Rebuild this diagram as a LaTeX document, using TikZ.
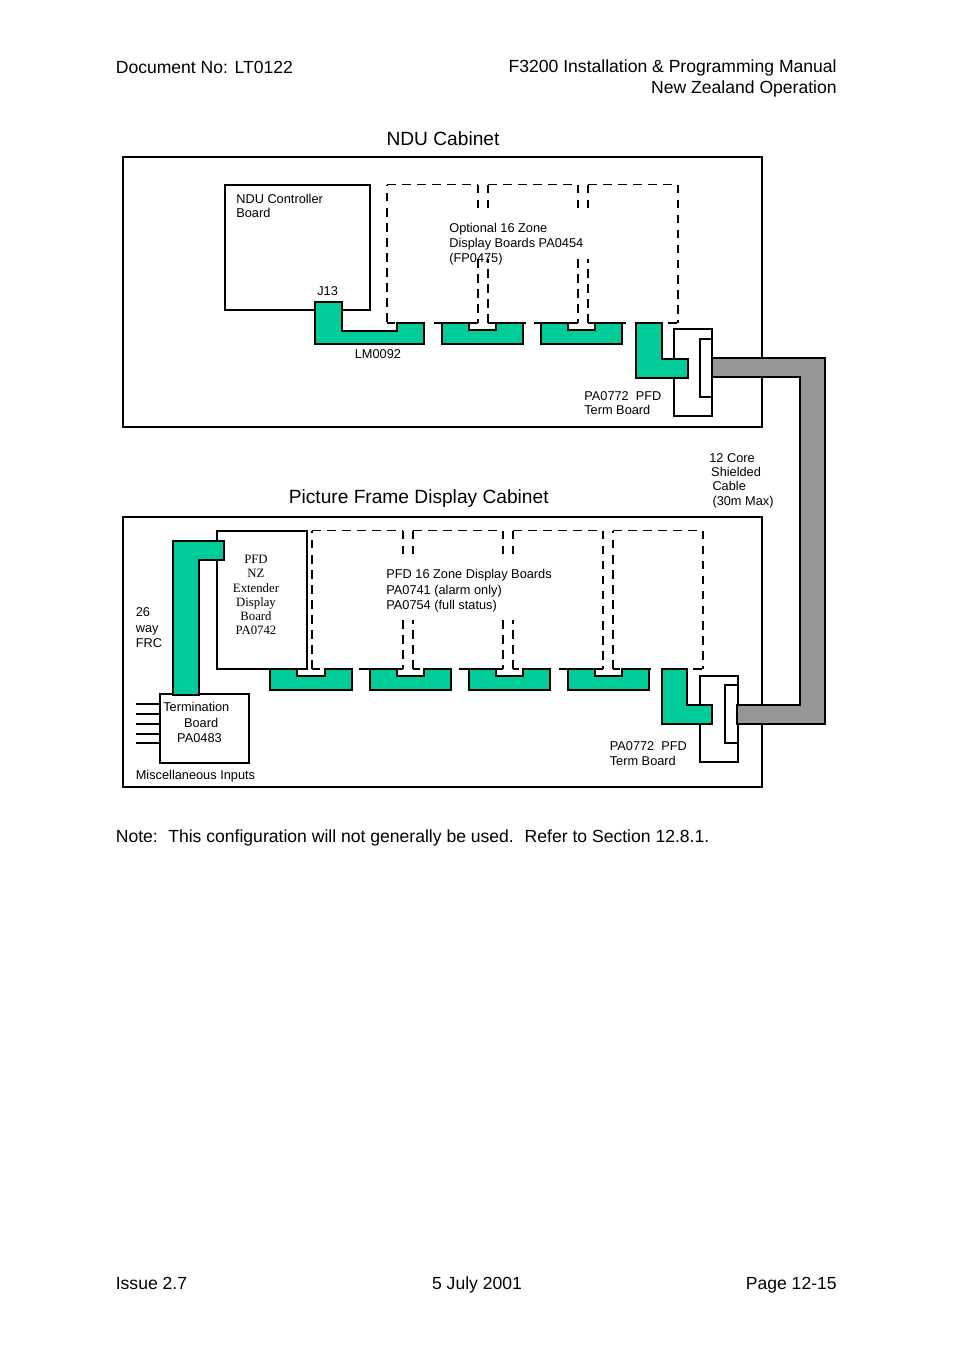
\documentclass[tikz,border=0pt]{standalone}
\usepackage{fontspec}
\setmainfont{Liberation Sans}
\newfontfamily\boardserif{Liberation Serif}
\usetikzlibrary{positioning, calc}
\definecolor{boardgreen}{HTML}{00CC99}
\definecolor{cablegrey}{HTML}{969696}
\def\pxlen{0.624bp}

\begin{document}
\begin{tikzpicture}[
    x=0.624bp, y=-0.624bp,
    boxnode/.style={draw, line width=1.25bp, inner sep=0pt, outer sep=0pt},
    greenboard/.style={draw, fill=boardgreen, line width=1.25bp, line join=miter},
    cable/.style={draw, fill=cablegrey, line width=1.25bp},
    vdash/.style={line width=1.15bp, dash pattern=on 5.4bp off 4bp},
    hdash/.style={line width=0.7bp, dash pattern=on 5.4bp off 4bp},
    wire/.style={line width=1.25bp},
    stubline/.style={line width=0.8bp},
    label/.style={font=\fontsize{8}{9}\selectfont, align=left, anchor=west, inner sep=0pt},
    pagetext/.style={font=\fontsize{11}{12.6}\selectfont, inner sep=0pt},
    title/.style={font=\fontsize{12}{14}\selectfont, inner sep=0pt}
]
\useasboundingbox (0,0) rectangle (954,1351);

% Page header and footer
\node[pagetext, anchor=west] (docno) at (115.5,67) {Document No: LT0122};
\node[pagetext, anchor=east, align=right] (manual) at (837,78.5) {F3200 Installation \& Programming Manual\\New Zealand Operation};
\node[pagetext, anchor=west] (issue) at (115.5,1283) {Issue 2.7};
\node[pagetext] (date) at (477,1285) {5 July 2001};
\node[pagetext, anchor=east] (page) at (837,1285) {Page 12-15};
\node[pagetext, anchor=west] (note) at (115.5,838) {Note:\ \ \hspace{0.5pt}This configuration will not generally be used.\ \ \hspace{0.7pt}Refer to Section 12.8.1.};

% Cabinets
\node[title] (nduTitle) at (443,139) {NDU Cabinet};
\node[title, anchor=west] (pfdTitle) at (288.5,499) {Picture Frame Display Cabinet};
\node[boxnode, minimum width=639*\pxlen, minimum height=270*\pxlen] (nduCab) at (442.5,292) {};
\node[boxnode, minimum width=639*\pxlen, minimum height=270*\pxlen] (pfdCab) at (442.5,652) {};

% Dashed outlines, NDU cabinet
\draw[vdash, line width=1.6bp] (387,322) -- (387,184.5);
\draw[hdash] (387,184.5) -- (478,184.5);
\draw[vdash] (478,184.5) -- (478,213);
\draw[vdash] (478,259) -- (478,323);
\draw[vdash] (488,323) -- (488,259);
\draw[vdash] (488,184.5) -- (488,213);
\draw[hdash] (488,184.5) -- (578,184.5);
\draw[vdash] (578,184.5) -- (578,213);
\draw[vdash] (578,259) -- (578,323);
\draw[vdash] (588,323) -- (588,259);
\draw[vdash] (588,184.5) -- (588,213);
\draw[hdash] (588,184.5) -- (678,184.5);
\draw[vdash] (678,184.5) -- (678,323);
\foreach \xa/\xb in {387/395, 434/442, 468/478, 488/496, 523/526, 534/541, 567/578, 588/596, 620/626, 668/677}
    \draw[stubline] (\xa,323) -- (\xb,323);

% Dashed outlines, picture frame cabinet
\draw[vdash] (312,669) -- (312,530.5);
\draw[hdash] (312,530.5) -- (403,530.5);
\draw[vdash] (403,530.5) -- (403,559.5);
\draw[vdash] (403,620) -- (403,669);
\draw[vdash] (413,669) -- (413,620);
\draw[vdash] (413,530.5) -- (413,559.5);
\draw[hdash] (413,530.5) -- (503,530.5);
\draw[vdash] (503,530.5) -- (503,559.5);
\draw[vdash] (503,620) -- (503,669);
\draw[vdash] (513,669) -- (513,620);
\draw[vdash] (513,530.5) -- (513,559.5);
\draw[hdash] (513,530.5) -- (603,530.5);
\draw[vdash] (603,530.5) -- (603,669);
\draw[vdash] (613,669) -- (613,530.5);
\draw[hdash] (613,530.5) -- (703,530.5);
\draw[vdash] (703,530.5) -- (703,669);
\foreach \xa/\xb in {312/320, 359/370, 396/403, 413/420, 459/469, 496/503, 513/519, 559/568, 595/603, 613/620, 649/651, 693/702}
    \draw[stubline] (\xa,669) -- (\xb,669);

% Boards
\node[boxnode, minimum width=145*\pxlen, minimum height=124.5*\pxlen] (controller) at (297.5,247.25) {};
\node[boxnode, minimum width=90.5*\pxlen, minimum height=138*\pxlen] (extender) at (261.75,599.75) {};
\node[boxnode, minimum width=88.5*\pxlen, minimum height=69*\pxlen] (termination) at (204.5,728.5) {};
\node[boxnode, minimum width=38*\pxlen, minimum height=87*\pxlen] (termA) at (693,372.5) {};
\node[boxnode, minimum width=12*\pxlen, minimum height=58*\pxlen] (termAin) at (706,368) {};
\node[boxnode, minimum width=38*\pxlen, minimum height=86*\pxlen] (termB) at (719,718.5) {};
\node[boxnode, minimum width=13*\pxlen, minimum height=58*\pxlen] (termBin) at (731.5,713.5) {};

% Inputs to the termination board
\foreach \ypos [count=\i] in {704,714,723.5,733.5,743} {
    \coordinate (stub\i) at (135.5,\ypos);
    \draw[wire] (stub\i) -- (stub\i -| termination.west);
}

% Green ribbon cables
\foreach \xpos/\ypos in {441.5/323, 540.5/323, 270/669, 369.5/669, 468.5/669, 567.5/669}
    \draw[greenboard] (\xpos,\ypos) -- ++(27,0) -- ++(0,7) -- ++(27.5,0) -- ++(0,-7) -- ++(27,0) -- ++(0,21) -- ++(-81.5,0) -- cycle;
\draw[greenboard] (315,302) -- (342,302) -- (342,331) -- (396.5,331) -- (396.5,323) -- (423.5,323) -- (423.5,344) -- (315,344) -- cycle;
\draw[greenboard] (636,323) -- (662,323) -- (662,358.5) -- (687.5,358.5) -- (687.5,377.5) -- (636,377.5) -- cycle;
\draw[greenboard] (662,669) -- (687,669) -- (687,704.5) -- (712,704.5) -- (712,723.5) -- (662,723.5) -- cycle;
\draw[greenboard] (173,541) -- (224,541) -- (224,560) -- (199,560) -- (199,694.5) -- (173,694.5) -- cycle;

% Shielded cable between the cabinets
\draw[cable] (712,358) -- (824.5,358) -- (824.5,723.5) -- (737,723.5) -- (737,705) -- (800,705) -- (800,377) -- (712,377) -- cycle;

% Labels, NDU cabinet
\node[label] (controllerText) at (236,206) {NDU Controller\\Board};
\node[label] (jText) at (317,291) {J13};
\node[label] (lmText) at (354.5,354.5) {LM0092};
\node[label] (optText) at (449,244) {Optional 16 Zone\\[0.4pt]Display Boards PA0454\\[0.4pt](FP0475)};
\node[label] (termAText) at (584,403) {PA0772\ \ PFD\\Term Board};
\node[label] (cableText) at (709,480.5) {12 Core\\\hspace*{1.2pt}Shielded\\\hspace*{2pt}Cable\\\hspace*{2pt}(30m Max)};

% Labels, picture frame cabinet
\node[label, font=\fontsize{8}{8.9}\boardserif, align=center, anchor=center] (extenderText) at (256,595) {PFD\\NZ\\Extender\\Display\\Board\\PA0742};
\node[label] (pfdText) at (386,591) {PFD 16 Zone Display Boards\\[0.7pt]PA0741 (alarm only)\\[0.7pt]PA0754 (full status)};
\node[label] (frcText) at (135.5,628) {26\\[0.7pt]way\\[0.7pt]FRC};
\node[label] (termText) at (163,722.5) {Termination\\[0.5pt]\hspace*{13pt}Board\\[0.5pt]\hspace*{8.7pt}PA0483};
\node[label] (miscText) at (135.5,776) {Miscellaneous Inputs};
\node[label] (termBText) at (609.5,753.5) {PA0772\ \ PFD\\Term Board};

\end{tikzpicture}
\end{document}
